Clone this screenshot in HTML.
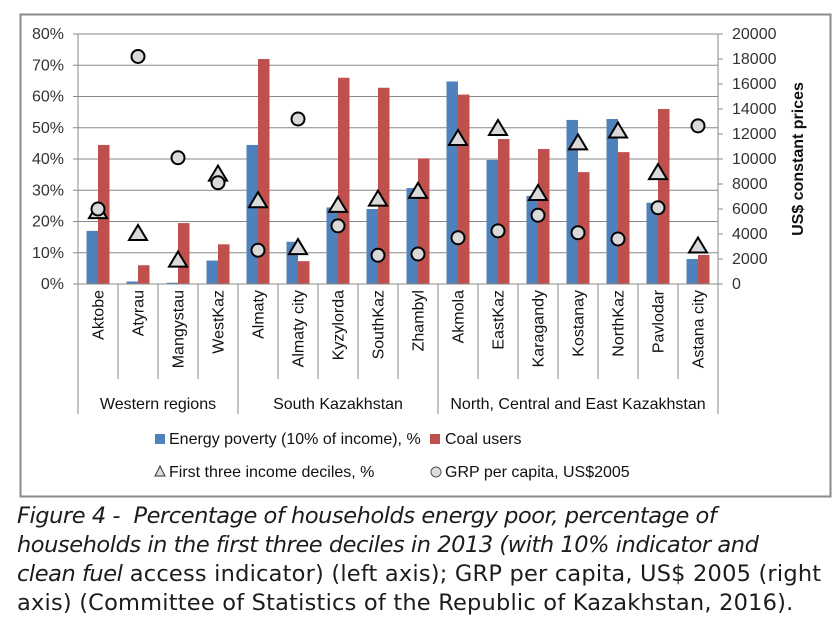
<!DOCTYPE html>
<html><head><meta charset="utf-8"><style>
body{margin:0;background:#fff;width:838px;height:636px;overflow:hidden;font-family:"Liberation Sans",sans-serif}
#cap{position:absolute;left:17px;top:502px;font-size:22.5px;line-height:29px;color:#1c1c1c;white-space:nowrap;font-family:"DejaVu Sans","Liberation Sans",sans-serif;letter-spacing:0.2px}
#cap i{font-style:italic;letter-spacing:-0.45px}
</style></head><body>
<svg id="chart" width="838" height="500" style="position:absolute;left:0;top:0" font-family="Liberation Sans, sans-serif"></svg>
<div id="cap"><i>Figure 4 -&nbsp; Percentage of households energy poor, percentage of</i><br><i>households in the first three deciles in 2013 (with 10% indicator and</i><br><i>clean fuel</i> access indicator) (left axis); GRP per capita, US$ 2005 (right<br>axis) (Committee of Statistics of the Republic of Kazakhstan, 2016).</div>
<script>
const categories=["Aktobe","Atyrau","Mangystau","WestKaz","Almaty","Almaty city","Kyzylorda","SouthKaz","Zhambyl","Akmola","EastKaz","Karagandy","Kostanay","NorthKaz","Pavlodar","Astana city"];
const energyPoverty=[17,0.8,0.4,7.5,44.5,13.5,24.5,24,30.7,64.8,39.7,28.2,52.5,52.8,26,8];
const coalUsers=[44.5,6,19.5,12.7,72,7.3,66,62.8,40.2,60.6,46.4,43.2,35.8,42.2,56,9.3];
const firstDeciles=[23,16,7.5,35,26.5,11.5,25,27,29.5,46.4,49.6,28.8,45,48.8,35.5,12];
const grp=[6000,18200,10100,8100,2700,13200,4650,2300,2400,3700,4250,5500,4100,3600,6100,12650];
const groups=[["Western regions",0,4],["South Kazakhstan",4,9],["North, Central and East Kazakhstan",9,16]];
const leftTicks=[0,10,20,30,40,50,60,70,80];
const rightTicks=[0,2000,4000,6000,8000,10000,12000,14000,16000,18000,20000];

const svg=document.getElementById('chart');const NS='http://www.w3.org/2000/svg';
const X0=78,X1=718,Y0=284,Y1=34;
const cw=(X1-X0)/categories.length;
const yL=v=>Y0-(v/80)*(Y0-Y1);
const yR=v=>Y0-(v/20000)*(Y0-Y1);
const xC=i=>X0+cw*(i+0.5);
function mk(t,a,txt){const e=document.createElementNS(NS,t);for(const k in a)e.setAttribute(k,a[k]);if(txt!=null)e.textContent=txt;svg.appendChild(e);return e;}
let e=mk('rect',{x:20.5,y:14.5,width:810,height:482,fill:'#fff',stroke:'#8a8a8a','stroke-width':2});

leftTicks.forEach(t=>{const y=yL(t);
 e=mk('line',{x1:X0,x2:X1,y1:y,y2:y,stroke:'#888','stroke-width':1});
 e=mk('line',{x1:X0-5,x2:X0,y1:y,y2:y,stroke:'#888'});
 e=mk('text',{x:X0-14,y:y+5,'text-anchor':'end','font-size':16,fill:'#333'},t+'%');});
rightTicks.forEach(t=>{const y=yR(t);
 e=mk('line',{x1:X1,x2:X1+5,y1:y,y2:y,stroke:'#888'});
 e=mk('text',{x:X1+14,y:y+5,'font-size':16,fill:'#333'},String(t));});
e=mk('line',{x1:X0,x2:X0,y1:Y1,y2:414,stroke:'#888'});
e=mk('line',{x1:X1,x2:X1,y1:Y1,y2:414,stroke:'#888'});
e=mk('text',{transform:'translate(803,159) rotate(-90)','text-anchor':'middle','font-size':16,'font-weight':'bold',fill:'#111'},'US$ constant prices');

categories.forEach((c,i)=>{
 const bx=xC(i);
 e=mk('rect',{x:bx-11.5,y:yL(energyPoverty[i]),width:11.5,height:Y0-yL(energyPoverty[i]),fill:'#4f81bd'});
 e=mk('rect',{x:bx,y:yL(coalUsers[i]),width:11.5,height:Y0-yL(coalUsers[i]),fill:'#c0504d'});
 if(i>0){e=mk('line',{x1:X0+cw*i,x2:X0+cw*i,y1:Y0,y2:379,stroke:'#888'});}
 e=mk('text',{transform:`translate(${bx+5.5},290) rotate(-90)`,'text-anchor':'end','font-size':16,fill:'#111'},c);
});
categories.forEach((c,i)=>{
 const bx=xC(i),ty=yL(firstDeciles[i]);
 e=mk('path',{d:`M${bx},${ty-9}L${bx+9},${ty+6}L${bx-9},${ty+6}Z`,fill:'#d9d9d9',stroke:'#000','stroke-width':2});
 e=mk('circle',{cx:bx,cy:yR(grp[i]),r:6.5,fill:'#d9d9d9',stroke:'#000','stroke-width':2});
});
e=mk('line',{x1:X0,x2:X1+5,y1:Y0,y2:Y0,stroke:'#888'});
groups.forEach(([g,a,b])=>{
 if(a>0){e=mk('line',{x1:X0+cw*a,x2:X0+cw*a,y1:Y0,y2:414,stroke:'#888'});}
 e=mk('text',{x:X0+cw*(a+b)/2,y:409,'text-anchor':'middle','font-size':16,fill:'#111'},g);
});
e=mk('rect',{x:155,y:434,width:10,height:10,fill:'#4f81bd'});
e=mk('text',{x:169,y:444,'font-size':16,fill:'#111'},'Energy poverty (10% of income), %');
e=mk('rect',{x:430,y:434,width:10,height:10,fill:'#c0504d'});
e=mk('text',{x:445,y:444,'font-size':16,fill:'#111'},'Coal users');
e=mk('path',{d:'M160,466L165,476L155,476Z',fill:'#ddd',stroke:'#333'});
e=mk('text',{x:169,y:477,'font-size':16,fill:'#111'},'First three income deciles, %');
e=mk('circle',{cx:436,cy:472,r:5,fill:'#ddd',stroke:'#555'});
e=mk('text',{x:445,y:477,'font-size':16,fill:'#111'},'GRP per capita, US$2005');
</script>
</body></html>
